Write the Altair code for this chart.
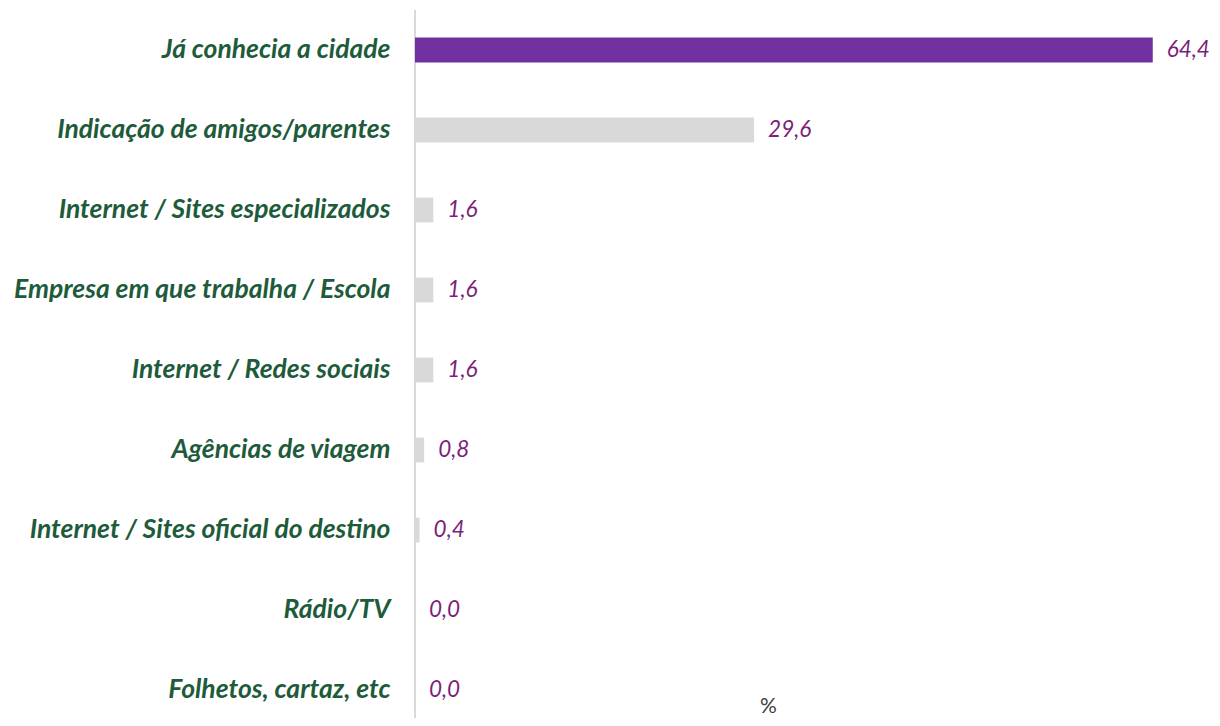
import altair as alt
import pandas as pd

categories = [
    "Já conhecia a cidade",
    "Indicação de amigos/parentes",
    "Internet / Sites especializados",
    "Empresa em que trabalha / Escola",
    "Internet / Redes sociais",
    "Agências de viagem",
    "Internet / Sites oficial do destino",
    "Rádio/TV",
    "Folhetos, cartaz, etc",
]
values = [64.4, 29.6, 1.6, 1.6, 1.6, 0.8, 0.4, 0.0, 0.0]
value_labels = ["64,4", "29,6", "1,6", "1,6", "1,6", "0,8", "0,4", "0,0", "0,0"]
highlight = [True, False, False, False, False, False, False, False, False]

df = pd.DataFrame({
    "cat": categories,
    "val": values,
    "lab": value_labels,
    "hl": highlight,
})

FONT = "Lato"

y_enc = alt.Y(
    "cat:N",
    sort=categories,
    scale=alt.Scale(paddingInner=0.69, paddingOuter=0.195, align=0.885),
    axis=alt.Axis(
        title=None,
        ticks=False,
        domain=False,
        labelPadding=25,
        labelFont=FONT,
        labelFontSize=26.5,
        labelFontWeight="bold",
        labelFontStyle="italic",
        labelColor="#1E5B3B",
        labelLimit=420,
    ),
)
x_enc = alt.X(
    "val:Q",
    scale=alt.Scale(domain=[0, 68], nice=False),
    axis=alt.Axis(
        title="%",
        labels=False,
        ticks=False,
        domain=False,
        grid=False,
        titleFont=FONT,
        titleFontSize=21,
        titleFontWeight="normal",
        titleColor="#404040",
        titleX=353,
        titleY=6,
        titleAnchor="middle",
        titleAlign="center",
        titleBaseline="alphabetic",
    ),
)

bars = alt.Chart(df).mark_bar().encode(
    x=x_enc,
    y=y_enc,
    color=alt.Color(
        "hl:N",
        scale=alt.Scale(domain=[True, False], range=["#7030A0", "#D9D9D9"]),
        legend=None,
    ),
)

# vertical zero line, running down past the plot area as in the reference
zero_line = alt.Chart(df).mark_rule(
    color="#D9D9D9", strokeWidth=2, clip=False
).encode(
    x=alt.datum(0),
    y=alt.value(0),
    y2=alt.value(712),
)

texts = alt.Chart(df).mark_text(
    align="left",
    baseline="middle",
    dx=14,
    font=FONT,
    fontSize=22.5,
    fontStyle="italic",
    color="#7B1F7A",
).encode(
    x=alt.X("val:Q"),
    y=alt.Y("cat:N", sort=categories),
    text="lab:N",
)

chart = (
    alt.layer(zero_line, bars, texts)
    .properties(
        width=779,
        height=696,
        autosize=alt.AutoSizeParams(type="none"),
        padding={"left": 407, "top": 2, "right": 18, "bottom": 12},
        background="white",
    )
    .configure_view(stroke=None)
)

chart.save("out.html", embed_options={"renderer": "svg", "actions": False})
